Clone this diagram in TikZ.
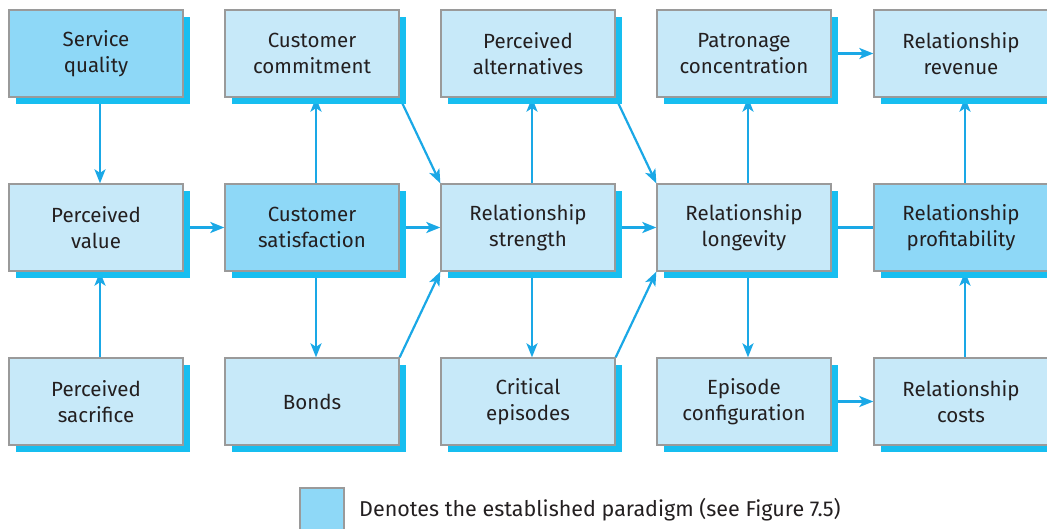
\documentclass[tikz,border=0pt]{standalone}
\usepackage{fontspec}
\setmainfont{Fira Sans}
\usetikzlibrary{arrows.meta,shadows,backgrounds}
\definecolor{keyfill}{HTML}{8ED8F7}
\definecolor{boxfill}{HTML}{C7E9F9}
\definecolor{shadowc}{HTML}{17BEF0}
\definecolor{edgec}{HTML}{9A9A9A}
\definecolor{linkc}{HTML}{1AA8E6}
\definecolor{inkc}{HTML}{231F20}
\tikzset{
  factor/.style={draw=edgec, line width=1.3pt, fill=boxfill,
    minimum width=174pt, minimum height=87pt, inner sep=0pt,
    align=center, text=inkc, font=\fontsize{20.5}{26.5}\selectfont,
    general shadow={fill=shadowc, shadow xshift=7pt, shadow yshift=-7pt}},
  keyfactor/.style={factor, fill=keyfill},
  link/.style={draw=linkc, line width=2.2pt,
    -{Stealth[length=14pt,width=11pt,inset=3.5pt]}},
  plainlink/.style={draw=linkc, line width=2.2pt},
}
\begin{document}
\begin{tikzpicture}[x=1pt,y=-1pt]
\useasboundingbox (0,0) rectangle (1047,529);
% top row
\node[keyfactor] (sq)  at (96,53.5)  {Service\\quality};
\node[factor]    (cc)  at (312,53.5) {Customer\\commitment};
\node[factor]    (pa)  at (528,53.5) {Perceived\\alternatives};
\node[factor]    (pc)  at (744,53.5) {Patronage\\concentration};
\node[factor]    (rr)  at (961,53.5) {Relationship\\revenue};
% middle row
\node[factor]    (pv)  at (96,227.5)  {Perceived\\value};
\node[keyfactor] (cs)  at (312,227.5) {Customer\\satisfaction};
\node[factor]    (rs)  at (528,227.5) {Relationship\\strength};
\node[factor]    (rl)  at (744,227.5) {Relationship\\longevity};
\node[keyfactor] (rp)  at (961,227.5) {Relationship\\profitability};
% bottom row
\node[factor]    (ps)  at (96,401.5)  {Perceived\\sacrifice};
\node[factor]    (bo)  at (312,401.5) {Bonds};
\node[factor]    (ce)  at (528,401.5) {Critical\\episodes};
\node[factor]    (ec)  at (744,401.5) {Episode\\configuration};
\node[factor]    (rc)  at (961,401.5) {Relationship\\costs};
% legend
\node[draw=edgec, line width=1.3pt, fill=keyfill, minimum width=44pt,
  minimum height=44pt, inner sep=0pt] (key) at (322,510) {};
\node[anchor=base west, text=inkc, inner sep=0pt,
  font=\fontsize{21.5}{24}\selectfont] (keytext) at (359,516)
  {Denotes the established paradigm (see Figure 7.5)};
% connectors, kept behind the boxes and their shadows
\begin{scope}[on background layer]
\draw[link] ([xshift=4pt]sq.south) -- ([xshift=4pt]pv.north);
\draw[link] ([xshift=4pt]ps.north) -- ([xshift=4pt]pv.south);
\draw[link] (pv.east) -- (cs.west);
\draw[link] ([xshift=4pt]cs.north) -- ([xshift=4pt]cc.south);
\draw[link] ([xshift=4pt]cs.south) -- ([xshift=4pt]bo.north);
\draw[link] (cs.east) -- (rs.west);
\draw[link] (cc.south east) -- (rs.north west);
\draw[link] (bo.north east) -- (rs.south west);
\draw[link] ([xshift=4pt]rs.north) -- ([xshift=4pt]pa.south);
\draw[link] ([xshift=4pt]rs.south) -- ([xshift=4pt]ce.north);
\draw[link] (rs.east) -- (rl.west);
\draw[link] (pa.south east) -- (rl.north west);
\draw[link] (ce.north east) -- (rl.south west);
\draw[link] ([xshift=4pt]rl.north) -- ([xshift=4pt]pc.south);
\draw[link] ([xshift=4pt]rl.south) -- ([xshift=4pt]ec.north);
\draw[plainlink] (rl.east) -- (rp.west);
\draw[link] (pc.east) -- (rr.west);
\draw[link] (ec.east) -- (rc.west);
\draw[link] ([xshift=4pt]rp.north) -- ([xshift=4pt]rr.south);
\draw[link] ([xshift=4pt]rc.north) -- ([xshift=4pt]rp.south);
\end{scope}
\end{tikzpicture}
\end{document}
